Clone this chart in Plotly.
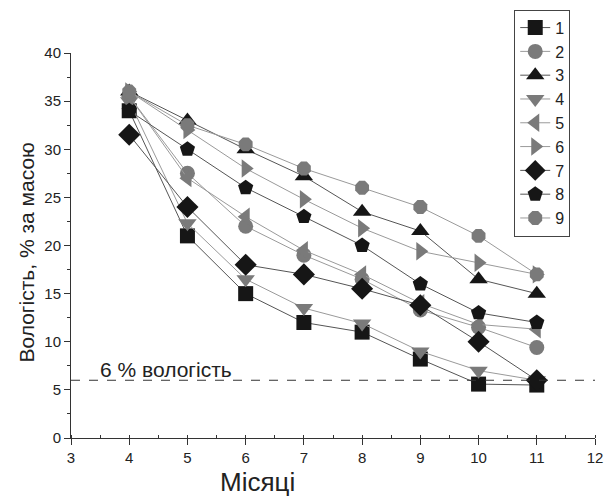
import plotly.graph_objects as go

months = [4, 5, 6, 7, 8, 9, 10, 11]

series_names = ["1", "2", "3", "4", "5", "6", "7", "8", "9"]
s1 = [34.0, 21.0, 15.0, 12.0, 11.0, 8.2, 5.6, 5.5]
s2 = [35.5, 27.5, 22.0, 19.0, 16.5, 13.3, 11.5, 9.4]
s3 = [36.0, 33.0, 30.0, 27.2, 23.5, 21.5, 16.5, 15.0]
s4 = [35.0, 22.3, 16.5, 13.5, 11.9, 9.0, 7.0, 6.0]
s5 = [35.5, 27.0, 23.0, 19.5, 17.0, 14.0, 11.8, 11.3]
s6 = [36.0, 32.0, 28.0, 24.8, 21.8, 19.4, 18.2, 17.0]
s7 = [31.5, 24.0, 18.0, 17.0, 15.5, 13.8, 10.0, 6.0]
s8 = [34.0, 30.0, 26.0, 23.0, 20.0, 16.0, 13.0, 12.0]
s9 = [36.0, 32.5, 30.5, 28.0, 26.0, 24.0, 21.0, 17.0]
values = [s1, s2, s3, s4, s5, s6, s7, s8, s9]

symbols = ["square", "circle", "triangle-up", "triangle-down", "triangle-left",
           "triangle-right", "diamond", "pentagon", "octagon"]
dark = "#161616"
grey = "#7a7a7a"
marker_colors = [dark, grey, dark, grey, grey, grey, dark, dark, grey]
line_colors = ["#555555", "#9a9a9a", "#555555", "#9a9a9a", "#9a9a9a",
               "#9a9a9a", "#555555", "#555555", "#9a9a9a"]
marker_sizes = [15, 15, 16, 16, 16, 16, 17, 16, 15]

threshold = 6
threshold_label = "6 % вологість"

fig = go.Figure()
for name, vals, sym, mc, lc, ms in zip(series_names, values, symbols,
                                       marker_colors, line_colors, marker_sizes):
    fig.add_trace(go.Scatter(
        x=months, y=vals, name=name, mode="lines+markers",
        line=dict(color=lc, width=1),
        marker=dict(symbol=sym, size=ms, color=mc, line=dict(width=0)),
    ))

fig.add_shape(type="line", xref="x", yref="y", x0=3, x1=12, y0=threshold, y1=threshold,
              line=dict(color="#333333", width=1, dash="dash"))
fig.add_annotation(x=4.64, y=threshold, xref="x", yref="y", text=threshold_label,
                   showarrow=False, yanchor="bottom", yshift=-3,
                   font=dict(size=21, color="#222222"))

fig.add_annotation(x=(260 - 71) / 532, y=(438 - 465) / 391, xref="paper", yref="paper",
                   text="Місяці", showarrow=False, yanchor="top",
                   font=dict(size=26, color="#222222"))
fig.add_annotation(x=(26 - 71) / 532, y=(438 - 250) / 391, xref="paper", yref="paper",
                   text="Вологість, % за масою", showarrow=False, textangle=-90,
                   xanchor="center", yanchor="middle",
                   font=dict(size=21, color="#222222"))

axis_common = dict(
    showgrid=False, zeroline=False, showline=True, linecolor="#333333", linewidth=1,
    ticks="outside", ticklen=6, tickwidth=1, tickcolor="#333333",
    tickfont=dict(size=15, color="#222222", family="Liberation Sans, Arial"),
)

fig.update_xaxes(range=[3, 12], dtick=1, tick0=3,
                 minor=dict(dtick=0.5, ticks="inside", ticklen=3, tickcolor="#333333"),
                 **axis_common)
fig.update_yaxes(range=[0, 40], dtick=5, tick0=0,
                 minor=dict(dtick=2.5, ticks="outside", ticklen=3, tickcolor="#333333"),
                 **axis_common)

fig.update_layout(
    width=613, height=497,
    margin=dict(l=71, r=10, t=47, b=59),
    plot_bgcolor="white", paper_bgcolor="white",
    font=dict(family="Liberation Sans, Arial", color="#222222"),
    showlegend=True,
    legend=dict(
        x=(521 - 71) / 532, y=(438 - 3) / 391, xanchor="left", yanchor="top",
        bgcolor="white", bordercolor="#444444", borderwidth=1,
        font=dict(size=16, color="#222222"),
        itemwidth=30, tracegroupgap=0, maxheight=460,
    ),
)

fig.write_html("out.html")
